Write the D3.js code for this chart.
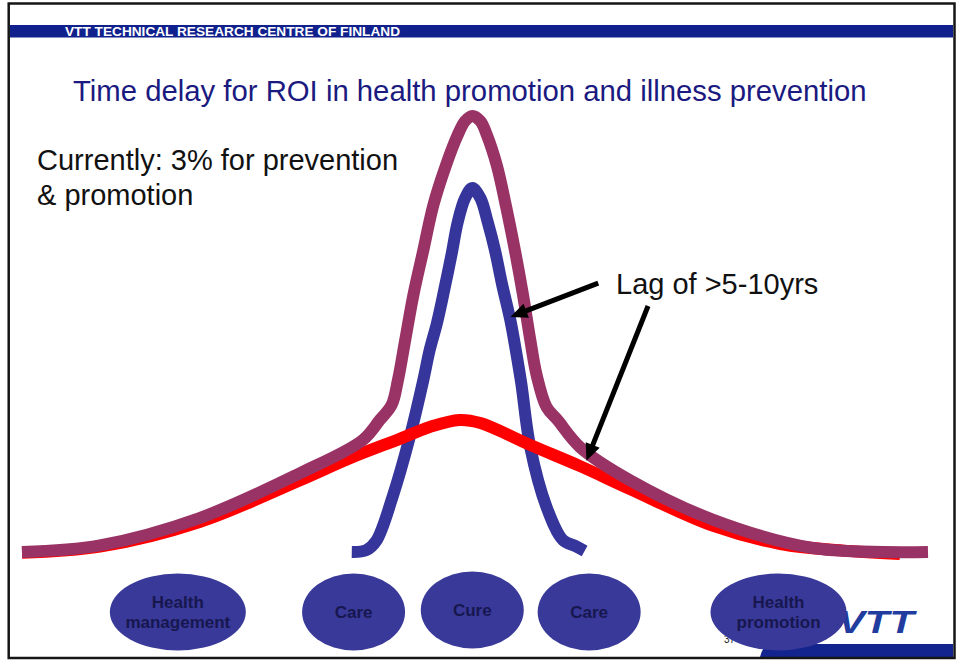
<!DOCTYPE html>
<html><head><meta charset="utf-8">
<script src="https://cdn.jsdelivr.net/npm/d3@7"></script>
<style>html,body{margin:0;padding:0;background:#fff;} svg{display:block;font-family:"Liberation Sans",Arial,sans-serif;}</style>
</head><body><svg id="c" width="960" height="669"></svg>
<script>
// ---------------- data (time index 0-100, level index 0-100) ----------------
const seriesNames = ["Total spending", "Prevention & promotion", "Care & cure"];
const totalX = [0, 8.6, 19.6, 30.7, 37.6, 39.5, 40.8, 41.5, 42.3, 43.2, 44.3, 45.4, 46.8, 48.1, 48.9, 49.7, 50.6, 51.3, 52.4, 53.4, 54.4, 55.3, 56.1, 56.8, 57.9, 59.1, 61.6, 67.1, 76.3, 87.3, 100];
const totalY = [0.7, 2.2, 8.4, 18.6, 26.1, 30.7, 34.1, 39.8, 48.9, 59.1, 69.3, 79.5, 88.6, 95.5, 98.6, 99.8, 98.6, 95.5, 88.6, 79.5, 69.3, 59.1, 48.9, 40.9, 33.6, 30.7, 24.5, 17.0, 8.0, 1.6, 0.7];
const preventionX = [0, 8.6, 19.6, 30.7, 36.2, 41.7, 45.0, 48.3, 50.6, 56.1, 61.6, 67.1, 76.3, 83.7, 91.4, 96.9];
const preventionY = [0.5, 1.9, 7.5, 17.0, 22.0, 26.4, 29.1, 30.7, 30.0, 25.0, 20.2, 15.0, 6.6, 2.5, 0.9, 0.2];
const careX = [36.4, 38.0, 39.1, 40.9, 42.8, 44.3, 45.0, 45.8, 46.6, 47.4, 48.1, 48.9, 49.7, 50.6, 51.4, 52.2, 53.0, 53.9, 54.5, 55.1, 56.1, 57.9, 59.7, 61.1, 62.1];
const careY = [0.7, 1.1, 3.2, 13.2, 26.8, 39.8, 46.6, 52.7, 60.2, 68.2, 75.7, 81.1, 83.4, 81.1, 75.7, 69.3, 61.4, 53.4, 46.6, 39.1, 24.5, 10.9, 3.4, 2.0, 0.9];
const stageLabels = [["Health", "management"], ["Care"], ["Cure"], ["Care"], ["Health", "promotion"]];
const stageAt = [17.2, 36.6, 49.7, 62.6, 83.5];
const arrowFrom = [[63.6, 61.8], [69.1, 56.6]];
const arrowTo = [[53.9, 54.1], [62.3, 21.4]];
const headerText = "VTT TECHNICAL RESEARCH CENTRE OF FINLAND";
const titleText = "Time delay for ROI in health promotion and illness prevention";
const noteLines = ["Currently: 3% for prevention", "& promotion"];
const lagText = "Lag of >5-10yrs";

// ---------------- drawing ----------------
const svg = d3.select("#c");
const x = d3.scaleLinear().domain([0, 100]).range([22, 928]);
const y = d3.scaleLinear().domain([0, 100]).range([555, 115]);

svg.append("rect").attr("width", 960).attr("height", 669).attr("fill", "#fff");

// header band
svg.append("rect").attr("x", 10).attr("y", 25).attr("width", 943).attr("height", 12.5).attr("fill", "#10208c");
svg.append("text").attr("x", 65).attr("y", 35.5).attr("fill", "#fff")
  .attr("font-weight", "bold").attr("font-size", 13.4)
  .attr("textLength", 335).attr("lengthAdjust", "spacingAndGlyphs").text(headerText);

// title
svg.append("text").attr("x", 73).attr("y", 101).attr("fill", "#1a1a80")
  .attr("font-size", 29.3).text(titleText);

// note text
noteLines.forEach((t, i) => {
  svg.append("text").attr("x", 37).attr("y", 170 + i * 34.5).attr("fill", "#111")
    .attr("font-size", 29).text(t);
});
svg.append("text").attr("x", 616).attr("y", 294).attr("fill", "#111")
  .attr("font-size", 29).text(lagText);

// curves
const line = d3.line().x(d => x(d[0])).y(d => y(d[1])).curve(d3.curveCatmullRom.alpha(0.5));
const series = [
  {name: seriesNames[2], pts: d3.zip(careX, careY), color: "#35359b"},
  {name: seriesNames[1], pts: d3.zip(preventionX, preventionY), color: "#ff0000"},
  {name: seriesNames[0], pts: d3.zip(totalX, totalY), color: "#993366"}
];
svg.append("g").selectAll("path").data(series).join("path")
  .attr("d", d => line(d.pts)).attr("fill", "none")
  .attr("stroke", d => d.color).attr("stroke-width", 12)
  .attr("stroke-linecap", "butt").attr("stroke-linejoin", "round");

// arrows
const ag = svg.append("g");
arrowFrom.forEach((f, i) => {
  const x0 = x(f[0]), y0 = y(f[1]), x1 = x(arrowTo[i][0]), y1 = y(arrowTo[i][1]);
  const dx = x1 - x0, dy = y1 - y0, L = Math.hypot(dx, dy), ux = dx / L, uy = dy / L;
  const hl = 17, hw = 7.5;
  ag.append("line").attr("x1", x0).attr("y1", y0)
    .attr("x2", x1 - ux * (hl - 3)).attr("y2", y1 - uy * (hl - 3))
    .attr("stroke", "#000").attr("stroke-width", 5);
  const bx = x1 - ux * hl, by = y1 - uy * hl;
  ag.append("path").attr("d", `M${x1},${y1}L${bx - uy * hw},${by + ux * hw}L${bx + uy * hw},${by - ux * hw}Z`)
    .attr("fill", "#000");
});

// bottom band + logo + page number
svg.append("path").attr("d", "M768,644 L953,644 L953,657 L760,657 Q762,648 768,644 Z").attr("fill", "#14248e");
svg.append("text").attr("x", 838).attr("y", 633)
  .attr("fill", "#1f3c9e").attr("font-size", 31).attr("font-weight", "bold")
  .attr("font-style", "italic").attr("textLength", 76).attr("lengthAdjust", "spacingAndGlyphs").text("VTT");
svg.append("text").attr("x", 724).attr("y", 643).attr("fill", "#222").attr("font-size", 10).text("37");

// stage ellipses
const sg = svg.append("g").selectAll("g").data(stageLabels).join("g")
  .attr("transform", (d, i) => `translate(${x(stageAt[i])},${i === 2 ? 610 : 612})`);
sg.append("ellipse").attr("rx", d => d.length > 1 ? 68 : 51.5).attr("ry", 38.5).attr("fill", "#393999");
sg.each(function(d) {
  const g = d3.select(this);
  d.forEach((t, j) => {
    g.append("text").attr("text-anchor", "middle")
      .attr("y", d.length > 1 ? (j === 0 ? -4.5 : 15.5) : 6)
      .attr("fill", "#17174f").attr("font-weight", "bold").attr("font-size", 17).text(t);
  });
});

// frame
svg.append("rect").attr("x", 8.7).attr("y", 3.5).attr("width", 945.8).attr("height", 654.5)
  .attr("fill", "none").attr("stroke", "#151515").attr("stroke-width", 2.5);
</script></body></html>
